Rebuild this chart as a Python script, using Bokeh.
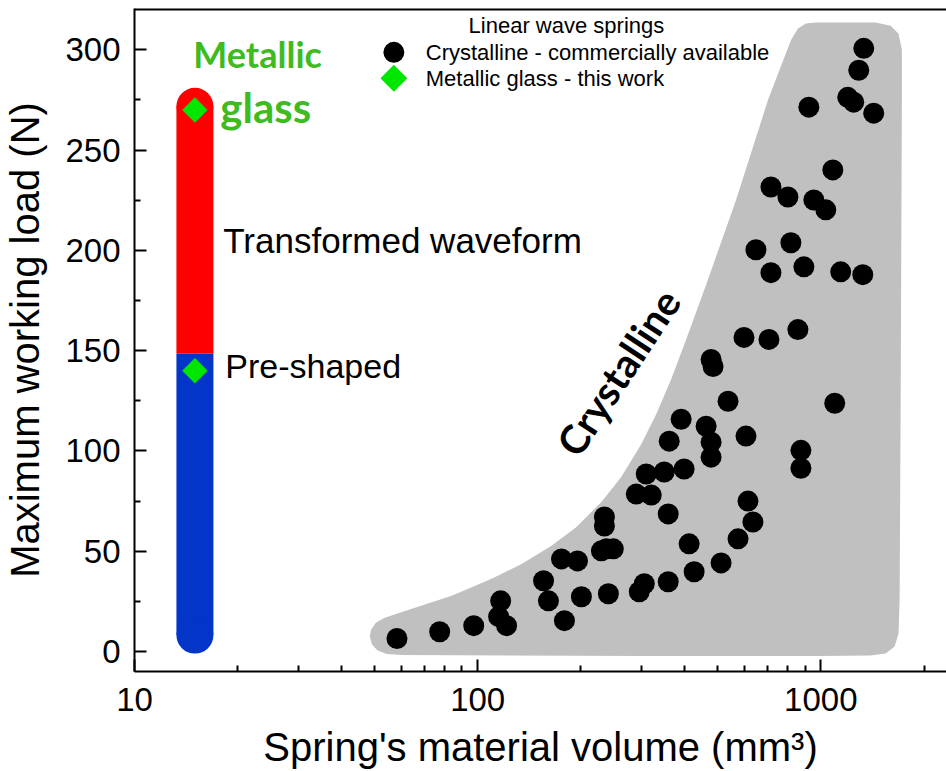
import numpy as np
from bokeh.plotting import figure
from bokeh.models import (Range1d, FixedTicker, NumeralTickFormatter, Label, Span,
                          ColumnDataSource)
from bokeh.embed import file_html
from bokeh.resources import INLINE

# ---------------- data ----------------
cryst_vol = [58.2, 77.5, 97.4, 116.7, 115.1, 121.4, 155.6, 160.8, 179.0, 175.5, 195.4, 200.6,
             240.4, 234.1, 234.1, 237.1, 229.4, 248.5, 295.8, 305.9, 359.2, 427.4, 512.1, 573.8,
             413.3, 359.2, 289.9, 320.6, 309.9, 349.7, 399.6, 361.6, 391.7, 463.2, 478.9, 478.9,
             536.6, 605.3, 613.4, 634.0,
             1334, 1290, 1198, 1247, 1426, 922.9, 1084, 715.5, 801.9, 954.3, 1034, 647.1, 818,
             715.5, 892.6, 1143, 1325, 597.2, 706.1, 857.5, 478.9, 485.3, 1098, 875, 875]
cryst_load = [6.5, 9.9, 12.9, 25.3, 17.4, 12.9, 35.3, 25.3, 15.4, 46.2, 45.2, 27.3,
              28.8, 67.1, 62.6, 51.2, 50.2, 51.2, 29.8, 33.8, 34.8, 39.8, 44.2, 56.2,
              53.7, 68.6, 78.5, 78.0, 88.5, 89.5, 91.0, 104.9, 115.8, 112.3, 104.4, 96.9,
              124.8, 107.4, 75.0, 64.6,
              300.7, 289.8, 276.3, 273.9, 268.4, 271.4, 240.1, 231.6, 226.6, 225.1, 220.2, 200.3, 203.8,
              188.9, 191.8, 189.3, 187.9, 156.6, 155.6, 160.5, 145.6, 142.1, 123.8, 100.3, 91.4]

mg_vol = [15, 15]
mg_load = [270, 140]

bar_vol = 15
preshaped_range = [-1.0, 148.5]
transformed_range = [148.5, 281.0]

# outline of the crystalline region
env_vol = [53.6, 50.5, 48.9, 48.5, 49.2, 51.1, 54.3, 60, 300, 1000, 1396, 1545, 1641, 1685, 1697,
           1709, 1723, 1723, 1685, 1598, 1445, 967, 904.5, 857.5, 818.2, 701.4, 566.2, 463.2,
           405.1, 366.4, 331.4, 299.7, 262.1, 229.4, 194.1, 164.1, 134.3, 109.8, 84.0, 64.3]
env_load = [16.9, 14.4, 10.9, 7.5, 3.5, 0.5, -1.2, -1.7, -2.2, -2.2, -2.0, -1.0, 2.5, 9, 26,
            125.7, 275, 300, 308, 312, 313.6, 313.6, 313.1, 310.6, 304.7, 274.9, 225.1, 182.9,
            155.6, 135.7, 118.3, 103.4, 87.0, 74.6, 62.1, 52.7, 43.7, 36.3, 27.8, 21.4]

x_ticks = [10, 100, 1000]
x_minor = [20, 30, 40, 50, 60, 70, 80, 90, 200, 300, 400, 500, 600, 700, 800, 900, 2000]
y_ticks = [0, 50, 100, 150, 200, 250, 300]
y_minor = [25, 75, 125, 175, 225, 275]

legend_title = "Linear wave springs"
legend_labels = ["Crystalline - commercially available", "Metallic glass - this work"]

# ---------------- figure ----------------
W, H = 946, 771
LEFT, TOP, BOTTOM = 132, 8, 98
FRAME_W = W - LEFT
FRAME_H = H - TOP - BOTTOM
PX_PER_DEC = 344.0
PX_PER_N = 2.012
Y1 = 645 / PX_PER_N            # value at top of frame
Y0 = Y1 - FRAME_H / PX_PER_N
X0 = 10
X1 = 10 ** (1 + FRAME_W / PX_PER_DEC)


def px_to_x(px):
    return 10 ** (np.log10(X0) + (px - LEFT) / PX_PER_DEC)


def py_to_y(py):
    return Y1 - (py - TOP) / PX_PER_N


p = figure(width=W, height=H, x_axis_type="log",
           x_range=Range1d(X0, X1), y_range=Range1d(Y0, Y1),
           output_backend="svg", toolbar_location=None,
           min_border_left=LEFT, min_border_right=0, min_border_top=TOP,
           min_border_bottom=BOTTOM)
p.grid.visible = False
p.outline_line_color = None
p.background_fill_color = "white"
p.border_fill_color = "white"

FONT = "Liberation Sans"
for ax in (p.xaxis[0], p.yaxis[0]):
    ax.axis_line_width = 2
    ax.axis_line_color = "black"
    ax.major_tick_in = 12
    ax.major_tick_out = 0
    ax.minor_tick_in = 6
    ax.minor_tick_out = 0
    ax.major_tick_line_width = 2
    ax.minor_tick_line_width = 2
    ax.major_label_text_font = FONT
    ax.major_label_text_font_size = "33px"
    ax.major_label_text_color = "black"
    ax.axis_label_text_font = FONT
    ax.axis_label_text_font_style = "normal"
    ax.axis_label_text_color = "black"

p.xaxis[0].ticker = FixedTicker(ticks=x_ticks, minor_ticks=x_minor)
p.xaxis[0].formatter = NumeralTickFormatter(format="0")
p.xaxis[0].major_label_standoff = 16
p.xaxis[0].axis_label = "Spring's material volume (mm³)"
p.xaxis[0].axis_label_text_font_size = "40px"
p.xaxis[0].axis_label_standoff = 11

p.yaxis[0].ticker = FixedTicker(ticks=y_ticks, minor_ticks=y_minor)
p.yaxis[0].major_label_standoff = 14
p.yaxis[0].axis_label = "Maximum working load (N)"
p.yaxis[0].axis_label_text_font_size = "40px"
p.yaxis[0].axis_label_standoff = 15

p.add_layout(Span(location=Y1 - 0.4, dimension="width", line_color="black", line_width=2.5))

# crystalline envelope
p.patch(env_vol, env_load, fill_color="#c0c0c0", line_color=None)

# metallic glass bar with rounded ends
BAR_W = 37
r_units = (BAR_W / 2) / PX_PER_N
BLUE, RED = "#0435c9", "#fe0000"
p.line([bar_vol, bar_vol], [preshaped_range[0] + r_units, preshaped_range[1]],
       line_width=BAR_W, line_color=BLUE, line_cap="butt")
p.scatter([bar_vol], [preshaped_range[0] + r_units], size=BAR_W, marker="circle",
          fill_color=BLUE, line_color=None)
p.line([bar_vol, bar_vol], [transformed_range[0], transformed_range[1] - r_units],
       line_width=BAR_W, line_color=RED, line_cap="butt")
p.scatter([bar_vol], [transformed_range[1] - r_units], size=BAR_W, marker="circle",
          fill_color=RED, line_color=None)

# data points
DGREEN = "#00e600"
src_c = ColumnDataSource(dict(x=cryst_vol, y=cryst_load))
p.scatter("x", "y", source=src_c, size=21, marker="circle", fill_color="black", line_color=None)
src_m = ColumnDataSource(dict(x=mg_vol, y=mg_load))
p.scatter("x", "y", source=src_m, size=18, marker="square", angle=np.pi / 4,
          fill_color=DGREEN, line_color=None)

# legend (drawn by hand so keys keep the picture's sizes)
key_x = px_to_x(392)
row_y = [py_to_y(52), py_to_y(78)]
p.scatter([key_x], [row_y[0]], size=21, marker="circle", fill_color="black", line_color=None)
p.scatter([key_x], [row_y[1]], size=19, marker="square", angle=np.pi / 4,
          fill_color=DGREEN, line_color=None)
for lbl, yy in zip(legend_labels, row_y):
    p.add_layout(Label(x=px_to_x(424), y=yy, text=lbl, text_font=FONT, text_font_size="22px",
                       text_color="black", text_baseline="middle"))
p.add_layout(Label(x=px_to_x(565), y=py_to_y(25), text=legend_title, text_align="center",
                   text_baseline="middle", text_font=FONT, text_font_size="22px",
                   text_color="black"))

# annotations
GREEN = "#3dbb1f"
p.add_layout(Label(x=px_to_x(191), y=py_to_y(54), text="Metallic", text_font="Lato",
                   text_font_style="bold", text_font_size="36px", text_color=GREEN,
                   text_baseline="middle"))
p.add_layout(Label(x=px_to_x(218), y=py_to_y(107), text="glass", text_font="Lato",
                   text_font_style="bold", text_font_size="42px", text_color=GREEN,
                   text_baseline="middle"))
p.add_layout(Label(x=px_to_x(221), y=py_to_y(241), text="Transformed waveform", text_font=FONT,
                   text_font_size="35px", text_color="black", text_baseline="middle"))
p.add_layout(Label(x=px_to_x(223), y=py_to_y(367), text="Pre-shaped", text_font=FONT,
                   text_font_size="34px", text_color="black", text_baseline="middle"))
p.add_layout(Label(x=px_to_x(617), y=py_to_y(373), text="Crystalline", text_font="Lato",
                   text_font_style="bold", text_font_size="40px", text_color="black",
                   text_align="center", text_baseline="middle", angle=56.6, angle_units="deg"))

open("out.html", "w").write(file_html(p, INLINE))
